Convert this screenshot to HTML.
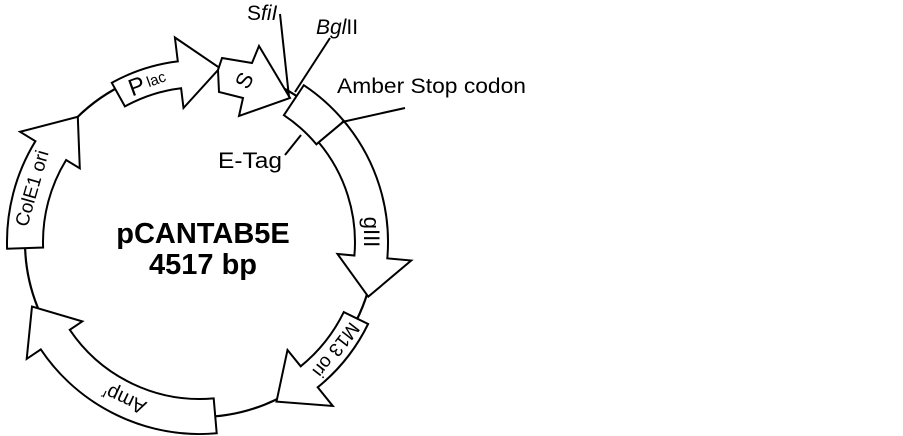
<!DOCTYPE html>
<html><head><meta charset="utf-8">
<style>
html,body{margin:0;padding:0;background:#fff;width:903px;height:436px;overflow:hidden}
svg{display:block}
text{font-family:"Liberation Sans",Arial,sans-serif;fill:#000}
</style></head>
<body>
<svg id="s" width="903" height="436" viewBox="0 0 903 436" xmlns="http://www.w3.org/2000/svg">
<circle cx="200" cy="242" r="175" fill="none" stroke="#000" stroke-width="2.2"/>
<g id="shapes" fill="#fff" stroke="#000" stroke-width="2" stroke-linejoin="miter"></g>
<polygon points="222,58 252,63 259,46 290,98 239,116 243,98 219,92 218,70" fill="#fff" stroke="#000" stroke-width="2"/>
<g stroke="#000" stroke-width="2">
<line x1="280" y1="14" x2="289" y2="97"/>
<line x1="330" y1="38" x2="295" y2="92"/>
<line x1="342" y1="122" x2="405" y2="108"/>
<line x1="285" y1="155" x2="301" y2="135"/>
</g>
<text x="247" y="20" font-size="21">S<tspan font-style="italic">fiI</tspan></text>
<text x="316" y="34" font-size="21"><tspan font-style="italic">Bgl</tspan>II</text>
<text x="337" y="93" font-size="21.5" textLength="189" lengthAdjust="spacingAndGlyphs">Amber Stop codon</text>
<text x="218" y="168" font-size="22" textLength="64" lengthAdjust="spacingAndGlyphs">E-Tag</text>
<text x="203" y="243" font-size="29" font-weight="bold" text-anchor="middle">pCANTAB5E</text>
<text x="203" y="274" font-size="29" font-weight="bold" text-anchor="middle">4517 bp</text>
<text transform="translate(150,90) rotate(-20)" font-size="24" text-anchor="middle">P<tspan font-size="15" dx="3" dy="-3">lac</tspan></text>
<text transform="translate(251,84) rotate(-62)" font-size="22" text-anchor="middle">S</text>
<text transform="translate(364,232) rotate(90)" font-size="22" text-anchor="middle">gIII</text>
<text transform="translate(331,346) rotate(128)" font-size="19" text-anchor="middle">M13 ori</text>
<text transform="translate(127,393) rotate(205)" font-size="20" text-anchor="middle">Amp<tspan font-size="13" dy="-7">r</tspan></text>
<text transform="translate(38,190) rotate(-74)" font-size="19" text-anchor="middle">ColE1 ori</text>
</svg>
<script>
var cx=200,cy=242;
function P(a,r){var t=a*Math.PI/180;return (cx+r*Math.sin(t)).toFixed(1)+","+(cy-r*Math.cos(t)).toFixed(1);}
function arrow(a0,ab,at,rin,rout,hin,hout,rt){
 var sw=ab>a0?1:0, sb=1-sw, la=Math.abs(ab-a0)>180?1:0;
 return "M"+P(a0,rout)+" A"+rout+","+rout+" 0 "+la+" "+sw+" "+P(ab,rout)+
 " L"+P(ab,hout)+" L"+P(at,rt)+" L"+P(ab,hin)+" L"+P(ab,rin)+
 " A"+rin+","+rin+" 0 "+la+" "+sb+" "+P(a0,rin)+" Z";
}
function box(a0,a1,rin,rout){
 return "M"+P(a0,rout)+" A"+rout+","+rout+" 0 0 1 "+P(a1,rout)+" L"+P(a1,rin)+" A"+rin+","+rin+" 0 0 0 "+P(a0,rin)+" Z";
}
var d=[
 arrow(-29,-7,6.5,155,182,135,206,175),
 box(33.5,50,152,188),
 arrow(50,95,108,155,188,138,212,177),
 arrow(116,141,154.4,160,187,139,211,177),
 arrow(175,236,249,157,192,142,209,180),
 arrow(268,301.5,315.7,157,193,141,211,175)
];
var g=document.getElementById("shapes"),h="";
d.forEach(function(p){h+='<path d="'+p+'"/>';});
g.innerHTML=h;
</script>
</body></html>
